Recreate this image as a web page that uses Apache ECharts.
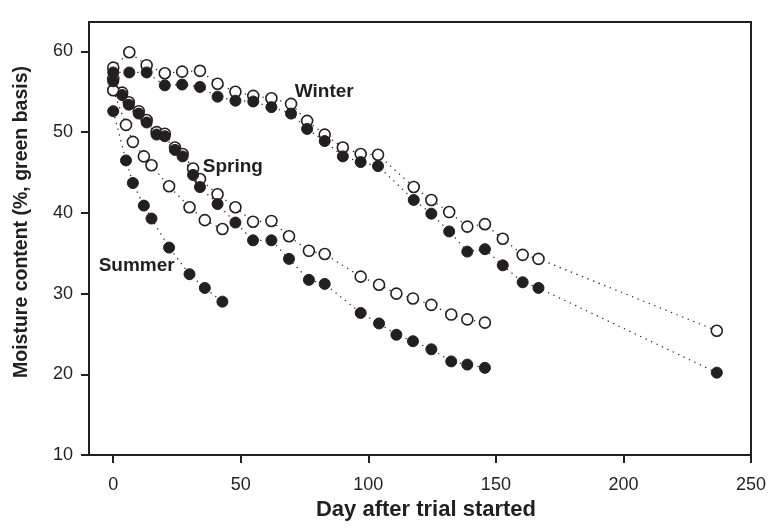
<!DOCTYPE html>
<html>
<head>
<meta charset="utf-8">
<script src="https://cdn.jsdelivr.net/npm/echarts@6/dist/echarts.min.js"></script>
<style>
html,body{margin:0;padding:0;background:#fff;}
#chart{width:769px;height:528px;}
</style>
</head>
<body>
<div id="chart"></div>
<script>
// ---- data ----
const winterDays   = [0,6.3,13.1,20.2,27,34,40.9,47.9,54.9,62,69.7,76,82.9,90,97,103.8,117.8,124.7,131.7,138.8,145.7,152.7,160.5,166.7,236.6];
const winterOpen   = [58.0,59.9,58.3,57.3,57.5,57.6,56.0,55.0,54.5,54.2,53.5,51.4,49.7,48.1,47.3,47.2,43.2,41.6,40.1,38.3,38.6,36.8,34.8,34.3,25.4];
const winterFilled = [57.4,57.4,57.4,55.8,55.9,55.6,54.4,53.9,53.8,53.1,52.3,50.4,48.9,47.0,46.3,45.8,41.6,39.9,37.7,35.2,35.5,33.5,31.4,30.7,20.2];

const springDays   = [0,3.5,6.1,10,13.1,17,20.2,24.2,27.2,31.3,34,40.9,47.9,54.8,62,68.9,76.7,82.9,97,104.2,111,117.5,124.7,132.5,138.8,145.7];
const springOpen   = [56.6,54.9,53.7,52.6,51.5,50.0,49.8,48.1,47.3,45.5,44.2,42.3,40.7,38.9,39.0,37.1,35.3,34.9,32.1,31.1,30.0,29.4,28.6,27.4,26.8,26.4];
const springFilled = [56.3,54.6,53.4,52.3,51.2,49.7,49.5,47.8,47.0,44.7,43.2,41.1,38.8,36.6,36.6,34.3,31.7,31.2,27.6,26.3,24.9,24.1,23.1,21.6,21.2,20.8];

const summerDays   = [0,5,7.7,12,15,21.9,29.9,35.9,42.8];
const summerOpen   = [55.2,50.9,48.8,47.0,45.9,43.3,40.7,39.1,38.0];
const summerFilled = [52.6,46.5,43.7,40.9,39.3,35.7,32.4,30.7,29.0];

const xTicks = [0,50,100,150,200,250];
const yTicks = [10,20,30,40,50,60];

const seasonLabels = ['Winter','Spring','Summer'];
const labelPos = [[82.7,55.0],[46.9,45.7],[9.2,33.4]];

// ---- chart ----
const INK = '#231f20';
const FONT = '"Liberation Sans", Arial, Helvetica, sans-serif';
const pairs = (xs, ys) => xs.map((x,i)=>[x, ys[i]]);

function lineSeries(name, xs, ys, filled){
  return {
    name, type:'line', data: pairs(xs, ys),
    symbol:'circle', symbolSize: 11,
    lineStyle:{color:INK, width:1.2, type:[1.3,4.7]},
    itemStyle: filled ? {color:INK, borderColor:INK, borderWidth:1}
                      : {color:'#fff', borderColor:INK, borderWidth:1.6},
    emphasis:{disabled:true},
    z: filled ? 3 : 2
  };
}

const chart = echarts.init(document.getElementById('chart'), null, {renderer:'canvas'});
chart.setOption({
  animation:false,
  backgroundColor:'#fff',
  grid:{left:89, right:17, top:22, bottom:73, show:true, borderColor:INK, borderWidth:2, backgroundColor:'transparent'},
  xAxis:{
    type:'value', min:-9.5, max:250,
    axisLine:{show:true, onZero:false, lineStyle:{color:INK, width:2}},
    axisTick:{show:true, inside:false, length:8, lineStyle:{color:INK, width:2}, customValues:xTicks},
    axisLabel:{color:INK, fontSize:18, fontFamily:FONT, margin:21, customValues:xTicks},
    splitLine:{show:false}
  },
  yAxis:{
    type:'value', min:10, max:63.65,
    axisLine:{show:true, onZero:false, lineStyle:{color:INK, width:2}},
    axisTick:{show:true, inside:false, length:8, lineStyle:{color:INK, width:2}, customValues:yTicks},
    axisLabel:{color:INK, fontSize:18, fontFamily:FONT, margin:16, customValues:yTicks},
    splitLine:{show:false}
  },
  graphic:[
    {type:'text', style:{text:'Day after trial started', font:'bold 22px '+FONT, fill:INK, textAlign:'center', textVerticalAlign:'middle', x:426, y:510}},
    {type:'text', rotation:Math.PI/2, x:22, y:222, style:{text:'Moisture content (%, green basis)', font:'bold 19.5px '+FONT, fill:INK, textAlign:'center', textVerticalAlign:'middle'}}
  ],
  series:[
    lineSeries('Winter open', winterDays, winterOpen, false),
    lineSeries('Spring open', springDays, springOpen, false),
    lineSeries('Summer open', summerDays, summerOpen, false),
    lineSeries('Winter filled', winterDays, winterFilled, true),
    lineSeries('Spring filled', springDays, springFilled, true),
    lineSeries('Summer filled', summerDays, summerFilled, true),
    {
      type:'scatter', symbol:'circle', symbolSize:1, z:5,
      itemStyle:{opacity:0},
      data: labelPos.map((p,i)=>({value:p, name:seasonLabels[i]})),
      label:{show:true, position:'inside', formatter:'{b}', color:INK, opacity:1, fontSize:19, fontWeight:'bold', fontFamily:FONT},
      emphasis:{disabled:true}, silent:true
    }
  ]
});
</script>
</body>
</html>
